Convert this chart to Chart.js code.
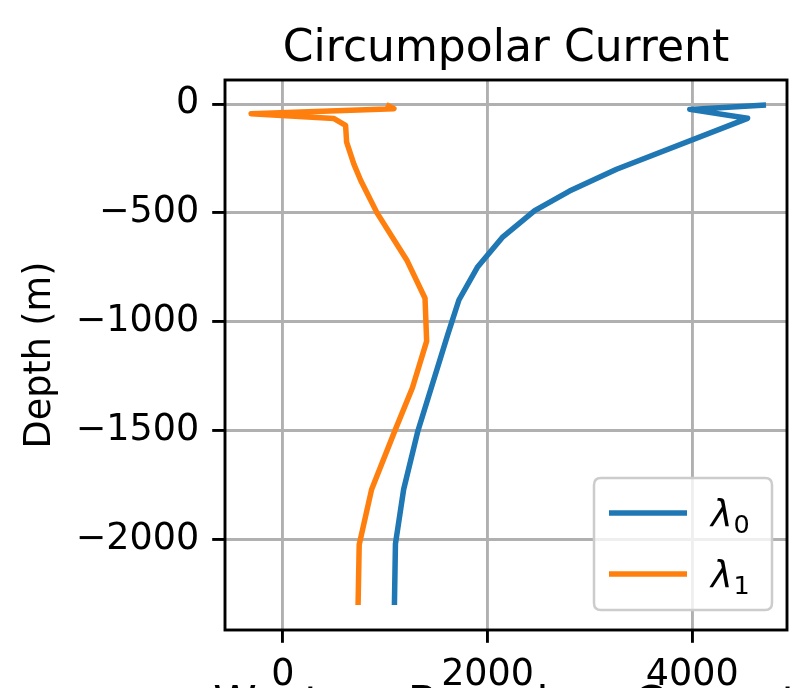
<!DOCTYPE html>
<html>
<head>
<meta charset="utf-8">
<script src="https://cdn.jsdelivr.net/npm/chart.js@4.4.1/dist/chart.umd.min.js"></script>
<style>
  html, body { margin: 0; padding: 0; background: #fff; overflow: hidden; }
</style>
</head>
<body>
<canvas id="depthChart" width="811" height="688"></canvas>
<script>
const chartTitle = "Circumpolar Current";
const nextPanelTitle = "Western Boundary Current";
const seriesNames = ["λ", "λ"];
const seriesSubs = ["0", "1"];

// lambda_0 profile (blue)
const depth0 = [-5, -25, -66, -300, -400, -490, -610, -750, -900, -1060, -1500, -1770, -2020, -2300];
const lambda0 = [4720, 3975, 4540, 3260, 2800, 2460, 2150, 1900, 1720, 1610, 1320, 1180, 1100, 1090];

// lambda_1 profile (orange)
const depth1 = [-3, -22, -45, -67, -98, -175, -276, -350, -500, -716, -892, -1089, -1303, -1502, -1770, -2023, -2300];
const lambda1 = [1010, 1085, -310, 500, 613, 623, 694, 760, 920, 1210, 1389, 1405, 1266, 1093, 867, 746, 735];

const xTicks = [0, 2000, 4000];
const yTicks = [0, -500, -1000, -1500, -2000];

const colors = ["#1f77b4", "#ff7f0e"];
const tickFont = { family: "DejaVu Sans", size: 36.5 };

function toPoints(xs, ys) {
  return xs.map((x, i) => ({ x: x, y: ys[i] }));
}

function fmt(v) {
  return v < 0 ? "\u2212" + Math.abs(v) : String(v);
}

const decorPlugin = {
  id: "decor",
  afterDatasetsDraw(chart) {
    const { ctx, chartArea: a } = chart;
    ctx.save();
    ctx.strokeStyle = "#000";
    ctx.lineWidth = 2.9;
    ctx.strokeRect(a.left, a.top, a.right - a.left, a.bottom - a.top);
    ctx.restore();
  },
  afterDraw(chart) {
    const { ctx, chartArea: a } = chart;
    const cx = (a.left + a.right) / 2;
    ctx.save();
    ctx.fillStyle = "#000";
    ctx.font = '44px "DejaVu Sans"';
    ctx.textAlign = "center";
    ctx.textBaseline = "alphabetic";
    ctx.fillText(chartTitle, cx, 61);
    // title of the panel below, cut off by the bottom edge
    ctx.fillText(nextPanelTitle, cx, 718);

    // legend box, lower right
    const w = 178, h = 132, r = 7;
    const lx = a.right - 15 - w, ly = a.bottom - 20 - h;
    ctx.beginPath();
    ctx.moveTo(lx + r, ly);
    ctx.lineTo(lx + w - r, ly);
    ctx.quadraticCurveTo(lx + w, ly, lx + w, ly + r);
    ctx.lineTo(lx + w, ly + h - r);
    ctx.quadraticCurveTo(lx + w, ly + h, lx + w - r, ly + h);
    ctx.lineTo(lx + r, ly + h);
    ctx.quadraticCurveTo(lx, ly + h, lx, ly + h - r);
    ctx.lineTo(lx, ly + r);
    ctx.quadraticCurveTo(lx, ly, lx + r, ly);
    ctx.closePath();
    ctx.fillStyle = "rgba(255,255,255,0.8)";
    ctx.fill();
    ctx.strokeStyle = "#cccccc";
    ctx.lineWidth = 2.5;
    ctx.stroke();

    chart.data.datasets.forEach((ds, i) => {
      const y = ly + 35 + i * 61;
      ctx.strokeStyle = ds.borderColor;
      ctx.lineWidth = 5.5;
      ctx.beginPath();
      ctx.moveTo(lx + 15, y);
      ctx.lineTo(lx + 93, y);
      ctx.stroke();

      ctx.fillStyle = "#000";
      ctx.textAlign = "left";
      ctx.font = 'italic 36.5px "DejaVu Sans"';
      ctx.fillText(seriesNames[i], lx + 117, y + 13);
      const lw = ctx.measureText(seriesNames[i]).width;
      ctx.font = '25.5px "DejaVu Sans"';
      ctx.fillText(seriesSubs[i], lx + 117 + lw + 1, y + 20);
    });
    ctx.restore();
  }
};

new Chart(document.getElementById("depthChart"), {
  type: "scatter",
  data: {
    datasets: [
      {
        label: "λ0",
        data: toPoints(lambda0, depth0),
        showLine: true,
        borderColor: colors[0],
        backgroundColor: colors[0],
        borderWidth: 5.5,
        borderJoinStyle: "round",
        borderCapStyle: "butt",
        pointRadius: 0,
        tension: 0,
      },
      {
        label: "λ1",
        data: toPoints(lambda1, depth1),
        showLine: true,
        borderColor: colors[1],
        backgroundColor: colors[1],
        borderWidth: 5.5,
        borderJoinStyle: "round",
        borderCapStyle: "butt",
        pointRadius: 0,
        tension: 0,
      },
    ],
  },
  options: {
    responsive: false,
    animation: false,
    devicePixelRatio: 1,
    layout: { padding: { top: 80, right: 24, left: 0, bottom: 0 } },
    plugins: {
      legend: { display: false },
      tooltip: { enabled: false },
      title: { display: false },
    },
    scales: {
      x: {
        type: "linear",
        min: -565,
        max: 4925,
        afterFit: (s) => { s.height = 58; },
        afterBuildTicks: (s) => { s.ticks = xTicks.map((v) => ({ value: v })); },
        border: { display: false },
        grid: {
          color: "#b0b0b0",
          lineWidth: 2.9,
          drawTicks: true,
          tickLength: 12.8,
          tickColor: "#000",
          tickWidth: 2.9,
        },
        ticks: {
          color: "#000",
          font: tickFont,
          padding: 11,
          maxRotation: 0,
          callback: (v) => fmt(v),
        },
      },
      y: {
        type: "linear",
        min: -2415,
        max: 110,
        afterFit: (s) => { s.width = 225; },
        afterBuildTicks: (s) => { s.ticks = yTicks.map((v) => ({ value: v })); },
        border: { display: false },
        grid: {
          color: "#b0b0b0",
          lineWidth: 2.9,
          drawTicks: true,
          tickLength: 12.8,
          tickColor: "#000",
          tickWidth: 2.9,
        },
        ticks: {
          color: "#000",
          font: tickFont,
          padding: 13,
          callback: (v) => fmt(v),
        },
        title: {
          display: true,
          text: "Depth (m)",
          color: "#000",
          font: { family: "DejaVu Sans", size: 36.5 },
          padding: { top: 19, bottom: 0 },
        },
      },
    },
  },
  plugins: [decorPlugin],
});
</script>
</body>
</html>
